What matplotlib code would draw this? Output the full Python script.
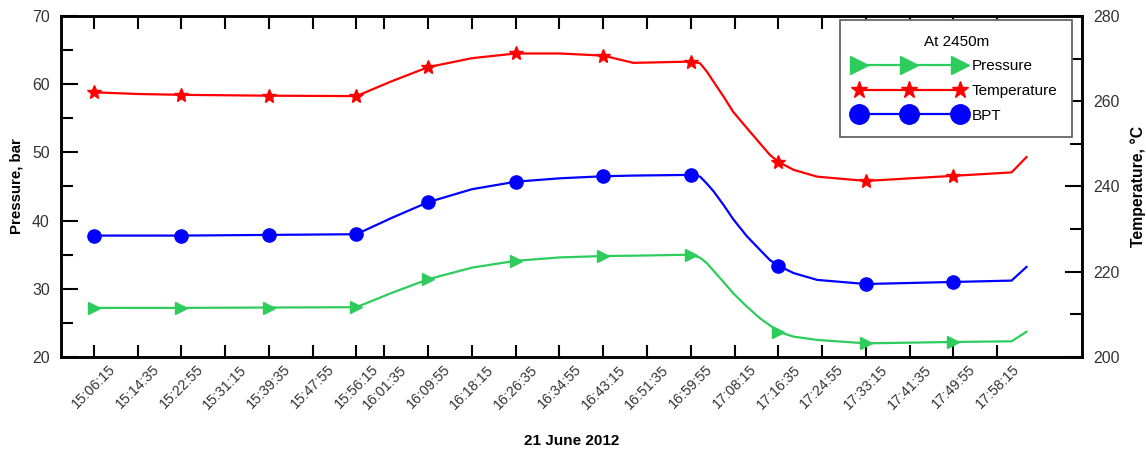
import matplotlib
matplotlib.use("Agg")
import matplotlib.pyplot as plt
from matplotlib.lines import Line2D
from matplotlib.ticker import MultipleLocator

plt.rcParams['font.family'] = ['Liberation Sans', 'DejaVu Sans']

# ---- data ----
times = ["15:06:15", "15:14:35", "15:22:55", "15:39:35", "15:56:15", "16:03:00",
         "16:09:55", "16:18:15", "16:26:35", "16:35:00", "16:43:15", "16:49:00",
         "16:59:55", "17:01:42", "17:03:00", "17:04:15", "17:06:09", "17:08:00",
         "17:10:36", "17:13:06", "17:15:00", "17:16:35", "17:19:30", "17:24:00",
         "17:33:15", "17:49:55", "18:01:00", "18:03:50"]
pressure = [27.2, 27.2, 27.2, 27.25, 27.3, 29.4,
            31.4, 33.1, 34.1, 34.6, 34.8, 34.85,
            35.0, 34.55, 33.74, 32.65, 31.0, 29.34,
            27.38, 25.67, 24.62, 23.71, 22.98, 22.5,
            22.0, 22.2, 22.3, 23.7]
bpt = [37.8, 37.8, 37.8, 37.9, 38.0, 40.4,
       42.7, 44.6, 45.7, 46.2, 46.5, 46.6,
       46.7, 46.44, 45.4, 44.3, 42.3, 40.2,
       37.7, 35.7, 34.2, 33.4, 32.3, 31.3,
       30.7, 31.0, 31.2, 33.2]
temperature = [262.1, 261.7, 261.5, 261.3, 261.2, 264.7,
               268.0, 270.1, 271.2, 271.2, 270.7, 269.0,
               269.3, 268.9, 266.9, 264.6, 261.1, 257.5,
               253.7, 250.1, 247.4, 245.8, 243.9, 242.3,
               241.3, 242.5, 243.3, 246.9]
marker_times = ["15:06:15", "15:22:55", "15:39:35", "15:56:15", "16:09:55", "16:26:35",
                "16:43:15", "16:59:55", "17:16:35", "17:33:15", "17:49:55"]
tick_labels = ["15:06:15", "15:14:35", "15:22:55", "15:31:15", "15:39:35", "15:47:55",
               "15:56:15", "16:01:35", "16:09:55", "16:18:15", "16:26:35", "16:34:55",
               "16:43:15", "16:51:35", "16:59:55", "17:08:15", "17:16:35", "17:24:55",
               "17:33:15", "17:41:35", "17:49:55", "17:58:15"]
x_range = ["15:00:00", "18:14:25"]


def to_min(s):
    h, m, sec = map(int, s.split(':'))
    return (h - 15) * 60 + m + sec / 60.0


x = [to_min(t) for t in times]
mark_idx = [times.index(t) for t in marker_times]

green = '#2ecc5c'
red = '#ff0000'
blue = '#0000ff'

fig = plt.figure(figsize=(11.46, 4.54), dpi=100)
ax = fig.add_axes([0.0532, 0.2137, 0.8910, 0.7511])
ax2 = ax.twinx()

ax.plot(x, pressure, color=green, lw=1.6, marker='>', ms=8, markevery=mark_idx, zorder=3)
ax.plot(x, bpt, color=blue, lw=1.6, marker='o', ms=9.5, markevery=mark_idx, zorder=3)
ax2.plot(x, temperature, color=red, lw=1.6, marker='*', ms=10, markevery=mark_idx, zorder=3)

ax.set_xlim(to_min(x_range[0]), to_min(x_range[1]))
ax.set_ylim(20, 70)
ax2.set_ylim(200, 280)

ax.set_xticks([to_min(t) for t in tick_labels])
ax.set_xticklabels(tick_labels, rotation=45, ha='center', fontsize=10.3, color='#333333')
ax.yaxis.set_major_locator(MultipleLocator(10))
ax.yaxis.set_minor_locator(MultipleLocator(5))
ax2.yaxis.set_major_locator(MultipleLocator(20))
ax2.yaxis.set_minor_locator(MultipleLocator(10))

ax.tick_params(axis='x', which='major', direction='in', length=9, width=1.5, top=True,
               pad=4)
ax.tick_params(axis='y', which='major', direction='in', length=12, width=1.5,
               labelsize=11.4, labelcolor='#333333', pad=8)
ax.tick_params(axis='y', which='minor', direction='in', length=8.5, width=1.5)
ax2.tick_params(axis='y', which='major', direction='in', length=12, width=1.5,
                labelsize=11.4, labelcolor='#333333', pad=8)
ax2.tick_params(axis='y', which='minor', direction='in', length=8.5, width=1.5)

for a in (ax, ax2):
    for sp in a.spines.values():
        sp.set_linewidth(1.8)

ax.set_ylabel("Pressure, bar", fontsize=10.8, fontweight='bold', labelpad=6)
ax2.set_ylabel("Temperature, \u00b0C", fontsize=11.3, fontweight='bold', labelpad=8)
ax.set_xlabel("21 June 2012", fontsize=11, fontweight='bold', labelpad=16)

handles = [
    Line2D([0], [0], color=green, lw=1.6, marker='>', ms=13),
    Line2D([0], [0], color=red, lw=1.6, marker='*', ms=12.5),
    Line2D([0], [0], color=blue, lw=1.6, marker='o', ms=14),
]
leg = ax2.legend(handles, ["Pressure", "Temperature", "BPT"], title="At 2450m",
                 loc='upper right', bbox_to_anchor=(0.9905, 0.988), numpoints=3,
                 handlelength=7.2, fontsize=11, title_fontsize=11, fancybox=False,
                 edgecolor='#666666', framealpha=1, borderpad=0.95, labelspacing=0.7,
                 handletextpad=0.5, borderaxespad=0.0)
leg.get_frame().set_linewidth(1.3)

fig.savefig("out.png", dpi=100)
